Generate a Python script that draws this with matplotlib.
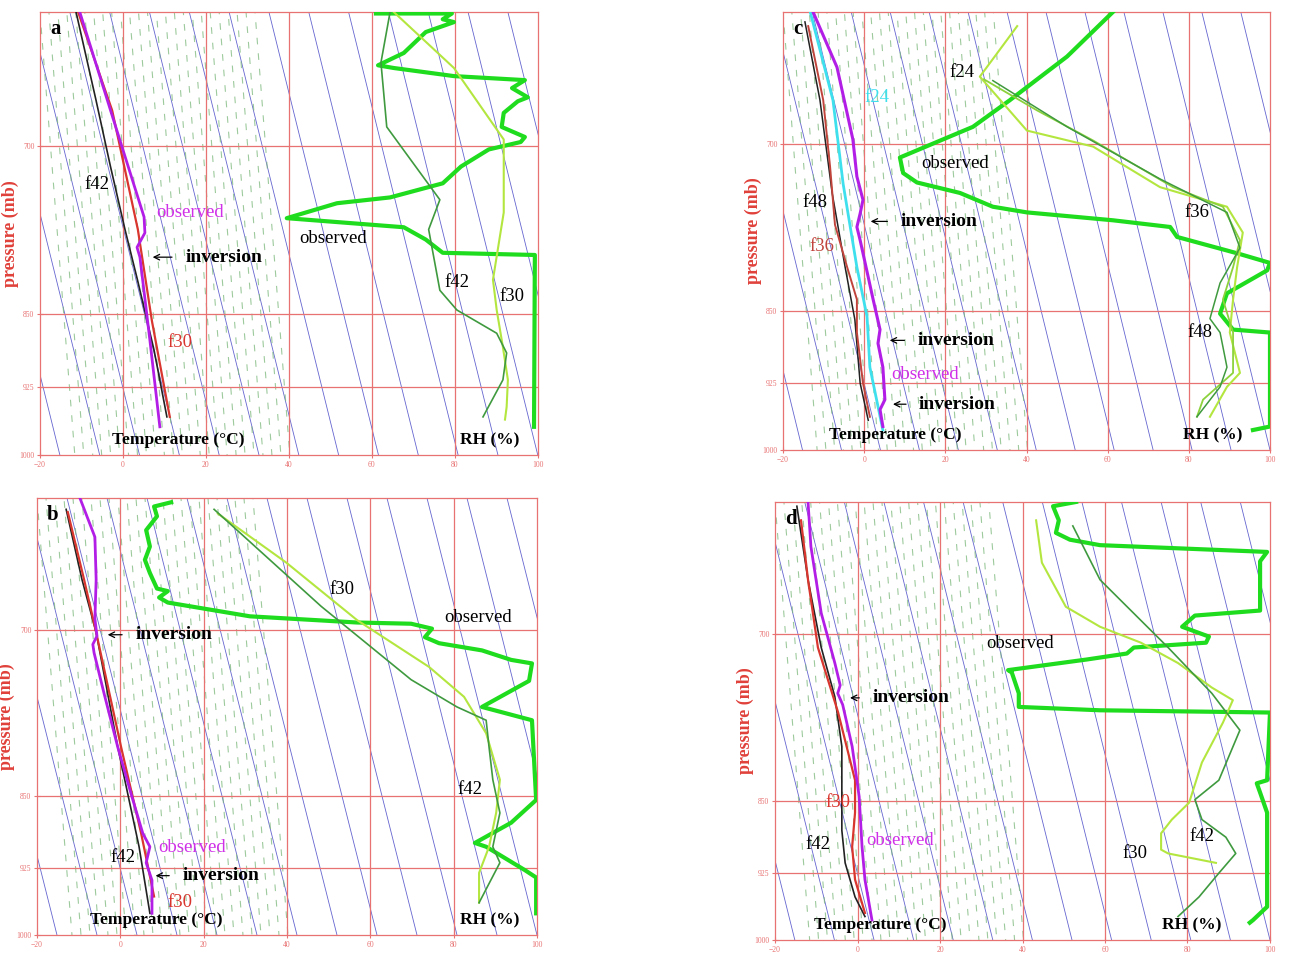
import matplotlib
matplotlib.use('Agg')
import matplotlib.pyplot as plt
import numpy as np
from matplotlib.ticker import NullLocator

plt.rcParams['font.family'] = ['Liberation Serif', 'DejaVu Serif']

# ---- painel a ----
a_obs_p = [600, 676, 760, 774, 787, 796, 876, 968]
a_obs_t = [-10.4, -2.6, 5.1, 5.3, 3.4, 4.1, 6.5, 8.9]
a_f30_p = [600, 672, 771, 857, 957]
a_f30_t = [-10.8, -2.6, 3.6, 7.0, 11.3]
a_f42_p = [600, 664, 717, 771, 817, 886, 957]
a_f42_t = [-11.3, -6.5, -3.0, 0.5, 3.5, 7.5, 10.6]

a_rh_obs_p = [601, 601, 605, 607, 614, 629, 638, 640, 646, 649, 655, 662, 665, 674,
              685, 693, 697, 703, 717, 731, 743, 748, 761, 769, 780, 792, 794, 968]
a_rh_obs = [61.0, 79.3, 77.1, 79.8, 73.0, 67.7, 61.5, 65.3, 79.8, 96.9, 93.8, 97.6, 95.2, 91.8,
            91.3, 96.9, 95.9, 88.2, 81.5, 77.1, 64.4, 51.6, 39.5, 67.7, 73.0, 77.1, 99.3, 99.1]
a_rh_f42_p = [600, 636, 685, 745, 771, 827, 846, 869, 889, 917, 957]
a_rh_f42 = [64.4, 62.2, 63.6, 76.4, 73.7, 76.4, 80.5, 90.1, 92.5, 91.6, 86.8]
a_rh_f30_p = [600, 640, 695, 756, 817, 846, 883, 917, 946, 960]
a_rh_f30 = [65.3, 79.8, 91.8, 91.8, 89.2, 90.1, 91.6, 92.8, 92.5, 92.1]

# ---- painel b ----
b_obs_p = [600, 628, 660, 691, 705, 712, 719, 754, 803, 851, 888, 902, 919, 938, 975]
b_obs_t = [-9.7, -6.1, -5.8, -6.1, -5.6, -6.6, -6.3, -3.9, -0.6, 2.8, 5.4, 7.1, 6.2, 7.6, 7.6]
b_f30_p = [610, 660, 702, 803, 888, 956]
b_f30_t = [-12.6, -8.7, -5.8, 0.2, 5.0, 8.1]
b_f42_p = [608, 660, 702, 803, 902, 975]
b_f42_t = [-13.0, -9.2, -5.8, -0.6, 4.5, 7.1]

b_rh_obs_p = [603, 606, 613, 623, 635, 645, 655, 667, 669, 674, 678, 689, 694, 695, 699, 706,
              711, 717, 725, 728, 743, 766, 778, 854, 877, 898, 902, 927, 935, 975]
b_rh_obs = [12.2, 8.1, 8.8, 6.2, 7.1, 5.9, 7.1, 8.8, 11.4, 9.3, 11.4, 31.1, 56.8, 69.8, 74.8, 73.1,
            76.5, 86.8, 93.8, 98.8, 98.1, 86.8, 98.8, 99.8, 93.8, 85.1, 87.8, 97.1, 99.8, 99.8]
b_rh_f30_p = [611, 647, 692, 731, 757, 790, 834, 867, 902, 930, 963]
b_rh_f30 = [23.4, 39.8, 56.8, 74.1, 82.5, 87.8, 91.1, 90.2, 88.5, 86.1, 86.1]
b_rh_f42_p = [608, 681, 742, 766, 778, 803, 834, 867, 902, 919, 963]
b_rh_f42 = [22.5, 48.2, 69.8, 80.8, 87.8, 88.5, 89.4, 91.1, 89.4, 91.1, 86.1]

# ---- painel c ----
c_obs_p = [600, 640, 696, 727, 747, 759, 771, 783, 839, 869, 883, 908, 943, 954, 973]
c_obs_t = [-12.6, -6.7, -2.8, -1.8, -0.3, -1.0, -1.8, -1.0, 2.2, 3.9, 3.4, 4.6, 5.1, 3.9, 4.6]
c_f24_p = [600, 665, 733, 808, 856, 908, 977]
c_f24_t = [-13.3, -7.7, -5.2, -1.8, 0.7, 1.4, 4.6]
c_f36_p = [610, 665, 719, 769, 808, 839, 872, 925, 962]
c_f36_t = [-13.8, -10.1, -8.4, -7.2, -4.2, -1.8, -1.8, -0.3, 1.4]
c_f48_p = [607, 665, 741, 808, 859, 925, 966]
c_f48_t = [-14.6, -10.9, -7.9, -4.7, -2.3, -1.0, 1.0]

c_rh_obs_p = [600, 632, 665, 686, 711, 724, 732, 741, 753, 758, 765, 771, 780, 795, 804,
              811, 833, 853, 869, 872, 973, 977]
c_rh_obs = [61.3, 50.0, 35.9, 26.8, 8.8, 9.6, 13.0, 23.6, 31.7, 40.1, 61.3, 75.4, 77.1, 91.9, 100,
            99.3, 89.4, 87.7, 90.9, 100, 100, 95.8]
c_rh_f24_p = [610, 647, 689, 702, 736, 753, 776, 808, 839, 872, 914, 929, 962]
c_rh_f24 = [37.7, 28.5, 40.1, 56.4, 72.9, 89.4, 93.3, 91.9, 90.9, 90.1, 92.6, 89.4, 85.2]
c_rh_f36_p = [649, 673, 697, 736, 753, 783, 808, 839, 872, 914, 943, 962]
c_rh_f36 = [29.5, 42.6, 56.4, 76.1, 88.4, 92.6, 90.9, 88.4, 90.9, 90.9, 83.5, 82.0]
c_rh_f48_p = [650, 686, 729, 758, 790, 823, 858, 872, 908, 929, 962]
c_rh_f48 = [31.7, 50.0, 72.9, 89.4, 92.6, 87.7, 85.2, 87.7, 89.4, 87.7, 82.0]

# ---- painel d ----
d_obs_p = [600, 632, 683, 724, 743, 750, 760, 798, 846, 897, 932, 977]
d_obs_t = [-12.0, -11.3, -8.8, -5.5, -4.2, -4.8, -3.6, -1.3, 0.4, 1.1, 1.8, 3.5]
d_f30_p = [613, 657, 711, 767, 830, 862, 897, 932, 969]
d_f30_t = [-13.7, -12.0, -9.6, -4.7, -0.6, -0.6, -1.3, -0.6, 1.8]
d_f42_p = [603, 657, 711, 753, 798, 849, 880, 914, 951, 973]
d_f42_t = [-14.7, -12.0, -8.8, -5.5, -3.8, -3.8, -3.8, -3.0, -0.6, 1.8]

d_rh_obs_p = [600, 603, 613, 622, 627, 631, 636, 643, 681, 685, 694, 702, 707, 711, 716, 721,
              730, 732, 750, 762, 765, 767, 830, 833, 842, 862, 962, 977, 980]
d_rh_obs = [53.0, 47.4, 48.8, 48.1, 51.5, 58.8, 99.3, 97.6, 97.6, 81.8, 78.7, 85.2, 84.5, 67.0, 65.3, 55.6,
            36.5, 37.4, 39.1, 39.1, 58.8, 100, 99.3, 96.8, 97.6, 99.3, 99.3, 95.9, 95.1]
d_rh_f30_p = [613, 644, 678, 694, 707, 724, 745, 756, 776, 813, 852, 869, 883, 900, 904, 914]
d_rh_f30 = [43.3, 44.7, 50.5, 58.8, 68.7, 77.7, 85.9, 91.0, 88.6, 83.5, 80.4, 76.2, 73.6, 73.6, 75.3, 86.9]
d_rh_f42_p = [617, 657, 711, 750, 783, 830, 849, 869, 887, 904, 925, 951, 973]
d_rh_f42 = [52.2, 58.8, 75.3, 85.9, 92.7, 87.6, 81.8, 83.5, 89.3, 91.7, 87.6, 82.8, 77.7]

x_ticks = [-20, 0, 20, 40, 60, 80, 100]
p_ticks = [700, 850, 925, 1000]

VERMELHO = '#e87272'
AZUL = '#4a4ac8'
VERDE_TRACO = '#7cb87c'
ROXO = '#b31ee6'
VERMELHO_T = '#d8362e'
VERDE_OBS = '#1fdc1f'
VERDE_CLARO = '#b4e640'
VERDE_ESCURO = '#3f9a3f'
CIANO = '#3fe0ee'
MAGENTA_TXT = '#d030e8'


def fundo(ax):
    # linhas diagonais azuis e tracejado verde do diagrama
    for x0 in np.arange(-0.26, 1.0, 0.08):
        ax.plot([x0, x0 + 0.22], [1, 0], transform=ax.transAxes, color=AZUL,
                lw=0.6, alpha=0.85, zorder=1)
    for i, x0 in enumerate(np.arange(0.0, 0.44, 0.018)):
        ax.plot([x0, x0 + 0.07], [1, 0], transform=ax.transAxes, color=VERDE_TRACO,
                lw=0.8, linestyle=(i * 3.7, (6, 8)), alpha=0.75, zorder=1)
    for x in x_ticks[1:-1]:
        ax.axvline(x, color=VERMELHO, lw=0.9, zorder=2)
    for p in p_ticks[:-1]:
        ax.axhline(p, color=VERMELHO, lw=0.9, zorder=2)

    ax.set_xlim(-20, 100)
    ax.set_yscale('log')
    ax.set_ylim(1000, 600)
    ax.set_xticks(x_ticks)
    ax.set_yticks(p_ticks)
    ax.set_yticklabels([str(p) for p in p_ticks])
    ax.yaxis.set_minor_locator(NullLocator())
    ax.tick_params(colors=VERMELHO, labelcolor=VERMELHO, labelsize=5.5,
                   length=4, width=0.8, direction='inout', pad=2)
    for s in ax.spines.values():
        s.set_color(VERMELHO)
        s.set_linewidth(0.9)
    ax.set_ylabel('pressure (mb)', color='#e0403a', fontsize=13, fontweight='bold')
    ax.yaxis.set_label_coords(-0.043, 0.5)


def curva(ax, p, v, cor, lw):
    ax.plot(v, p, color=cor, lw=lw, zorder=4, solid_joinstyle='round')


def texto(ax, x, p, s, cor='black', bold=False, size=13.5):
    ax.text(x, p, s, color=cor, fontsize=size, fontweight='bold' if bold else 'normal',
            ha='center', va='center', zorder=6)


def inversao(ax, ponta, cauda, p):
    ax.annotate('', xy=(ponta, p), xytext=(cauda, p),
                arrowprops=dict(arrowstyle='->', color='black', lw=0.9), zorder=6)
    ax.text(cauda + 2.5, p, 'inversion', fontsize=14, fontweight='bold',
            ha='left', va='center', zorder=6)


def rodape(ax, letra, x_temp, x_rh):
    ax.text(0.02, 0.985, letra, transform=ax.transAxes, fontsize=15, fontweight='bold',
            ha='left', va='top', zorder=6)
    ax.text(x_temp, 983, 'Temperature (°C)', fontsize=12.5, fontweight='bold',
            ha='center', va='center', zorder=6)
    ax.text(x_rh, 983, 'RH (%)', fontsize=12.5, fontweight='bold',
            ha='center', va='center', zorder=6)


fig = plt.figure(figsize=(12.93, 9.64), dpi=100)

ax_a = fig.add_axes([0.0309, 0.528, 0.385, 0.4595])
ax_c = fig.add_axes([0.6056, 0.5332, 0.3766, 0.4544])
ax_b = fig.add_axes([0.0286, 0.0301, 0.3867, 0.4533])
ax_d = fig.add_axes([0.5994, 0.0249, 0.3828, 0.4544])

for ax in (ax_a, ax_b, ax_c, ax_d):
    fundo(ax)

# a
curva(ax_a, a_rh_obs_p, a_rh_obs, VERDE_OBS, 3.0)
curva(ax_a, a_rh_f30_p, a_rh_f30, VERDE_CLARO, 1.5)
curva(ax_a, a_rh_f42_p, a_rh_f42, VERDE_ESCURO, 1.2)
curva(ax_a, a_f42_p, a_f42_t, '#222222', 1.2)
curva(ax_a, a_f30_p, a_f30_t, VERMELHO_T, 1.6)
curva(ax_a, a_obs_p, a_obs_t, ROXO, 2.0)
texto(ax_a, -6.3, 732, 'f42')
texto(ax_a, 16.2, 756, 'observed', MAGENTA_TXT)
inversao(ax_a, 6.5, 12.5, 796)
texto(ax_a, 13.7, 878, 'f30', VERMELHO_T)
texto(ax_a, 50.6, 779, 'observed')
texto(ax_a, 80.5, 820, 'f42')
texto(ax_a, 93.8, 833, 'f30')
rodape(ax_a, 'a', 13.3, 88.5)

# b
curva(ax_b, b_rh_obs_p, b_rh_obs, VERDE_OBS, 3.0)
curva(ax_b, b_rh_f30_p, b_rh_f30, VERDE_CLARO, 1.5)
curva(ax_b, b_rh_f42_p, b_rh_f42, VERDE_ESCURO, 1.2)
curva(ax_b, b_f42_p, b_f42_t, '#222222', 1.2)
curva(ax_b, b_f30_p, b_f30_t, VERMELHO_T, 1.6)
curva(ax_b, b_obs_p, b_obs_t, ROXO, 2.0)
inversao(ax_b, -3.7, 1.1, 704)
texto(ax_b, 53.2, 668, 'f30')
texto(ax_b, 85.8, 690, 'observed')
texto(ax_b, 83.9, 844, 'f42')
texto(ax_b, 0.6, 913, 'f42')
texto(ax_b, 17.2, 903, 'observed', MAGENTA_TXT)
inversao(ax_b, 7.8, 12.4, 933)
texto(ax_b, 14.3, 963, 'f30', VERMELHO_T)
rodape(ax_b, 'b', 8.6, 88.7)

# c
curva(ax_c, c_rh_obs_p, c_rh_obs, VERDE_OBS, 3.0)
curva(ax_c, c_rh_f24_p, c_rh_f24, VERDE_CLARO, 1.5)
curva(ax_c, c_rh_f36_p, c_rh_f36, '#8cd23c', 1.3)
curva(ax_c, c_rh_f48_p, c_rh_f48, VERDE_ESCURO, 1.1)
curva(ax_c, c_f48_p, c_f48_t, '#222222', 1.1)
curva(ax_c, c_f36_p, c_f36_t, '#c0443c', 1.4)
curva(ax_c, c_f24_p, c_f24_t, CIANO, 2.0)
curva(ax_c, c_obs_p, c_obs_t, ROXO, 2.2)
texto(ax_c, 3.2, 663, 'f24', CIANO)
texto(ax_c, 24.1, 644, 'f24')
texto(ax_c, 22.4, 716, 'observed')
texto(ax_c, -12.1, 749, 'f48')
inversao(ax_c, 0.9, 6.4, 766)
texto(ax_c, -10.4, 789, 'f36', '#c0443c')
texto(ax_c, 82.0, 758, 'f36')
inversao(ax_c, 5.6, 10.6, 880)
texto(ax_c, 82.7, 872, 'f48')
texto(ax_c, 15.0, 916, 'observed', MAGENTA_TXT)
inversao(ax_c, 6.4, 11.0, 948)
rodape(ax_c, 'c', 7.6, 86.0)

# d
curva(ax_d, d_rh_obs_p, d_rh_obs, VERDE_OBS, 3.0)
curva(ax_d, d_rh_f30_p, d_rh_f30, VERDE_CLARO, 1.5)
curva(ax_d, d_rh_f42_p, d_rh_f42, VERDE_ESCURO, 1.2)
curva(ax_d, d_f42_p, d_f42_t, '#222222', 1.2)
curva(ax_d, d_f30_p, d_f30_t, VERMELHO_T, 1.6)
curva(ax_d, d_obs_p, d_obs_t, ROXO, 2.0)
texto(ax_d, 39.4, 708, 'observed')
inversao(ax_d, -2.5, 1.1, 754)
texto(ax_d, -4.7, 852, 'f30', VERMELHO_T)
texto(ax_d, -9.6, 895, 'f42')
texto(ax_d, 10.3, 890, 'observed', MAGENTA_TXT)
texto(ax_d, 67.3, 904, 'f30')
texto(ax_d, 83.5, 886, 'f42')
rodape(ax_d, 'd', 5.5, 81.1)

plt.savefig('out.png', dpi=100)
